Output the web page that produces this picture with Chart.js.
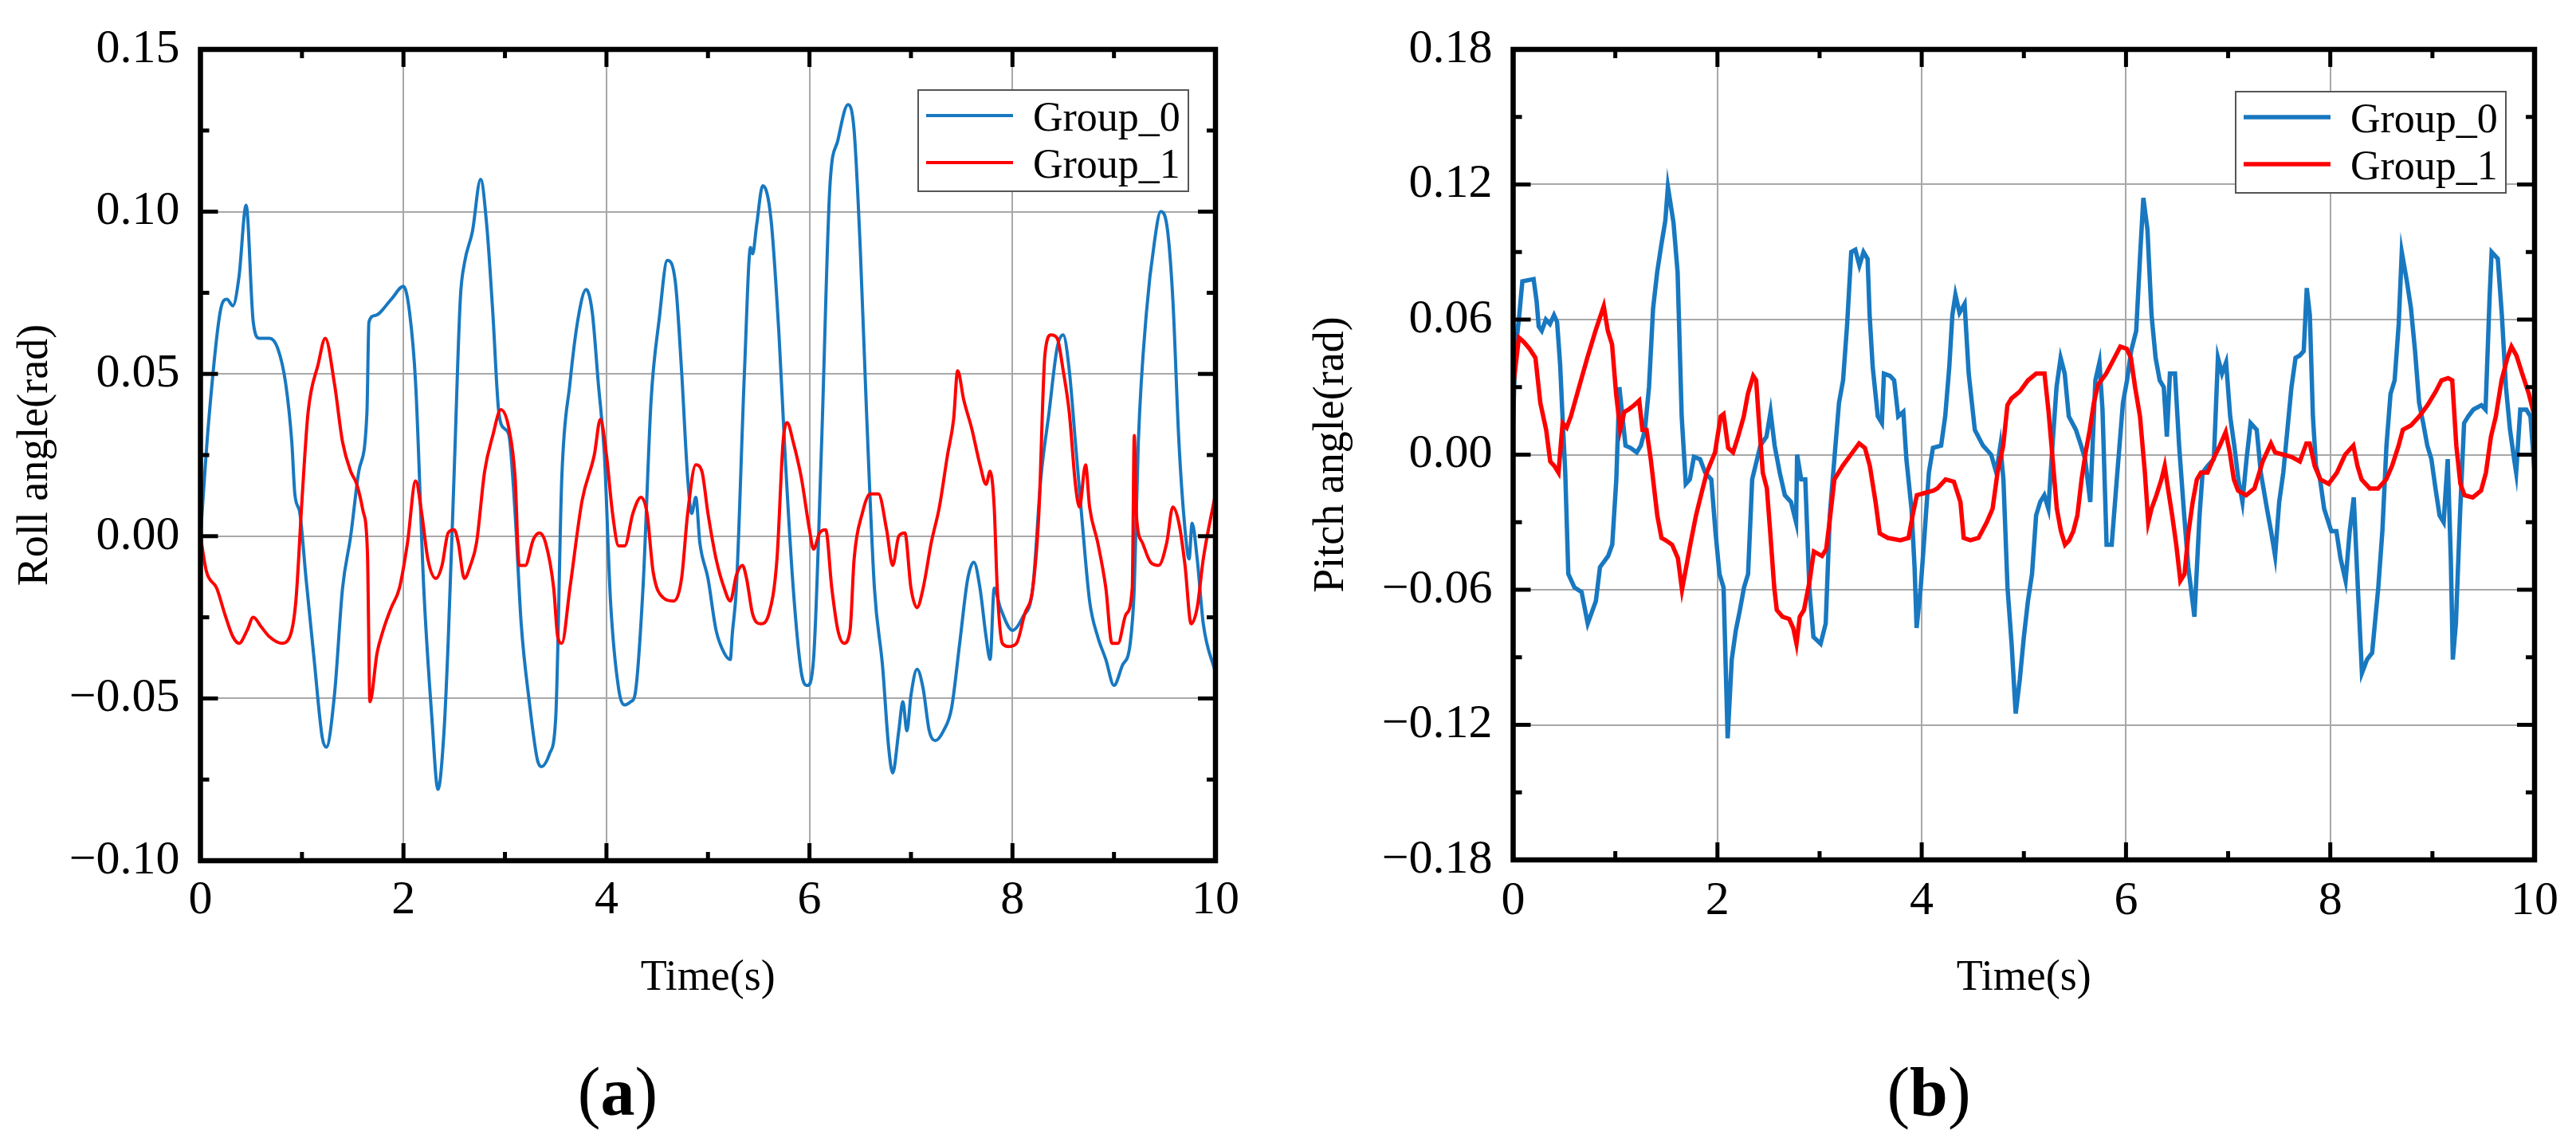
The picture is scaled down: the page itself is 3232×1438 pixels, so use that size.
<!DOCTYPE html>
<html>
<head>
<meta charset="utf-8">
<title>Roll and pitch angle</title>
<script src="https://cdn.jsdelivr.net/npm/chart.js@4.4.0/dist/chart.umd.min.js"></script>
<style>
  html, body { margin: 0; padding: 0; background: #fff; }
  body { width: 3232px; height: 1438px; position: relative; overflow: hidden; font-family: 'Liberation Serif', 'Times New Roman', serif; }
  canvas { position: absolute; top: 0; }
  #rollChart { left: 0; }
  #pitchChart { left: 1616px; }
  .panel-label { position: absolute; top: 1320px; width: 400px; text-align: center; font-size: 86px; line-height: 100px; color: #000; }
</style>
</head>
<body>
<canvas id="rollChart" width="1616" height="1300"></canvas>
<canvas id="pitchChart" width="1616" height="1300"></canvas>
<div class="panel-label" style="left:575px">(<b>a</b>)</div>
<div class="panel-label" style="left:2220px">(<b>b</b>)</div>
<script>
// Axis ticks
const xTicks = [0, 2, 4, 6, 8, 10];
const xMinorTicks = [1, 3, 5, 7, 9];
const rollTicks = [-0.10, -0.05, 0, 0.05, 0.10, 0.15];
const rollMinorTicks = [-0.075, -0.025, 0.025, 0.075, 0.125];
const pitchTicks = [-0.18, -0.12, -0.06, 0, 0.06, 0.12, 0.18];
const pitchMinorTicks = [-0.15, -0.09, -0.03, 0.03, 0.09, 0.15];

const seriesNames = ['Group_0', 'Group_1'];
const seriesColors = ['#1878c0', '#ff0000'];

// Roll angle, [time (s), angle (rad)]
const roll0 = [[0,0],[0.08,0.035],[0.2,0.070],[0.26,0.073],[0.32,0.071],[0.38,0.080],[0.45,0.102],[0.52,0.066],[0.58,0.061],[0.68,0.061],
  [0.76,0.058],[0.84,0.047],[0.9,0.029],[0.93,0.013],[0.98,0.007],[1.04,-0.013],[1.12,-0.038],[1.2,-0.062],[1.24,-0.065],[1.32,-0.049],
  [1.4,-0.016],[1.48,0.000],[1.56,0.020],[1.64,0.038],[1.66,0.066],[1.72,0.068],[1.88,0.073],[2.0,0.077],[2.06,0.069],[2.12,0.047],
  [2.2,-0.016],[2.28,-0.056],[2.34,-0.078],[2.4,-0.060],[2.44,-0.033],[2.5,0.020],[2.56,0.073],[2.6,0.084],[2.68,0.094],[2.76,0.110],
  [2.82,0.096],[2.88,0.069],[2.94,0.038],[3.0,0.033],[3.04,0.031],[3.1,0.007],[3.16,-0.027],[3.24,-0.051],[3.32,-0.069],[3.36,-0.071],
  [3.44,-0.067],[3.5,-0.056],[3.56,0.018],[3.64,0.047],[3.72,0.067],[3.8,0.076],[3.86,0.069],[3.92,0.047],[3.98,0.025],[4.04,-0.020],
  [4.12,-0.047],[4.18,-0.052],[4.24,-0.051],[4.28,-0.049],[4.36,-0.016],[4.44,0.042],[4.52,0.067],[4.6,0.085],[4.68,0.078],[4.74,0.051],
  [4.8,0.018],[4.84,0.007],[4.88,0.012],[4.92,-0.002],[5.0,-0.013],[5.08,-0.029],[5.16,-0.036],[5.22,-0.038],[5.24,-0.030],[5.28,-0.016],
  [5.36,0.051],[5.42,0.089],[5.44,0.087],[5.48,0.096],[5.54,0.108],[5.62,0.098],[5.7,0.062],[5.76,0.025],[5.84,-0.016],[5.92,-0.042],
  [5.98,-0.046],[6.04,-0.038],[6.12,0.029],[6.2,0.107],[6.28,0.122],[6.38,0.133],[6.44,0.125],[6.5,0.089],[6.56,0.040],[6.64,-0.016],
  [6.72,-0.040],[6.78,-0.065],[6.82,-0.073],[6.88,-0.060],[6.92,-0.051],[6.96,-0.060],[7.0,-0.049],[7.06,-0.041],[7.12,-0.047],[7.18,-0.060],
  [7.24,-0.063],[7.32,-0.060],[7.4,-0.053],[7.48,-0.033],[7.56,-0.013],[7.62,-0.008],[7.68,-0.016],[7.74,-0.031],[7.78,-0.038],[7.82,-0.016],
  [7.88,-0.022],[8.0,-0.029],[8.1,-0.025],[8.2,-0.016],[8.28,0.018],[8.36,0.038],[8.44,0.058],[8.5,0.062],[8.56,0.051],[8.62,0.029],
  [8.68,0.007],[8.76,-0.020],[8.84,-0.031],[8.92,-0.038],[9.0,-0.046],[9.08,-0.040],[9.16,-0.033],[9.2,-0.016],[9.24,0.029],[9.32,0.069],
  [9.4,0.091],[9.46,0.100],[9.52,0.096],[9.58,0.073],[9.64,0.029],[9.7,0.002],[9.74,-0.007],[9.77,0.004],[9.82,-0.007],[9.88,-0.027],
  [10.0,-0.042]];

const roll1 = [[0,0],[0.06,-0.011],[0.16,-0.016],[0.24,-0.024],[0.32,-0.031],[0.38,-0.033],[0.46,-0.029],[0.52,-0.025],[0.6,-0.028],[0.68,-0.031],
  [0.8,-0.033],[0.88,-0.031],[0.94,-0.020],[1.0,0.011],[1.06,0.038],[1.16,0.053],[1.23,0.061],[1.32,0.047],[1.4,0.029],[1.48,0.020],
  [1.54,0.016],[1.6,0.008],[1.645,-0.005],[1.67,-0.051],[1.74,-0.036],[1.8,-0.029],[1.88,-0.022],[1.96,-0.016],[2.04,-0.002],[2.12,0.017],
  [2.18,0.007],[2.24,-0.007],[2.32,-0.013],[2.38,-0.009],[2.44,0.001],[2.5,0.002],[2.54,-0.002],[2.6,-0.013],[2.66,-0.009],[2.72,-0.002],
  [2.8,0.020],[2.88,0.031],[2.96,0.039],[3.04,0.033],[3.1,0.018],[3.14,-0.009],[3.2,-0.009],[3.28,-0.001],[3.34,0.001],[3.4,-0.002],
  [3.48,-0.016],[3.52,-0.031],[3.56,-0.033],[3.64,-0.016],[3.76,0.011],[3.88,0.025],[3.94,0.036],[4.0,0.025],[4.06,0.007],[4.12,-0.003],
  [4.18,-0.003],[4.26,0.007],[4.34,0.012],[4.4,0.007],[4.46,-0.011],[4.56,-0.019],[4.66,-0.020],[4.74,-0.013],[4.8,0.007],[4.88,0.022],
  [4.94,0.020],[5.0,0.007],[5.08,-0.007],[5.16,-0.016],[5.22,-0.020],[5.28,-0.012],[5.34,-0.009],[5.38,-0.013],[5.44,-0.024],[5.52,-0.027],
  [5.6,-0.024],[5.68,-0.007],[5.74,0.029],[5.78,0.035],[5.84,0.029],[5.92,0.018],[6.0,0.002],[6.04,-0.004],[6.1,0.001],[6.16,0.002],
  [6.22,-0.016],[6.28,-0.029],[6.34,-0.033],[6.4,-0.029],[6.44,-0.007],[6.52,0.007],[6.6,0.013],[6.68,0.013],[6.76,0.002],[6.82,-0.009],
  [6.88,0.000],[6.94,0.001],[7.0,-0.016],[7.06,-0.022],[7.12,-0.016],[7.2,-0.002],[7.28,0.009],[7.36,0.025],[7.42,0.036],[7.46,0.051],
  [7.52,0.042],[7.6,0.033],[7.68,0.022],[7.74,0.016],[7.78,0.020],[7.82,0.009],[7.85,-0.016],[7.9,-0.033],[7.96,-0.034],[8.04,-0.033],
  [8.12,-0.024],[8.2,-0.016],[8.26,0.007],[8.32,0.056],[8.38,0.062],[8.44,0.061],[8.5,0.051],[8.56,0.038],[8.62,0.016],[8.66,0.009],
  [8.72,0.022],[8.76,0.009],[8.84,-0.002],[8.92,-0.016],[8.98,-0.033],[9.04,-0.033],[9.12,-0.024],[9.18,-0.016],[9.2,0.031],[9.22,0.007],
  [9.28,-0.002],[9.36,-0.008],[9.44,-0.009],[9.52,-0.002],[9.58,0.009],[9.64,0.004],[9.7,-0.009],[9.76,-0.027],[9.82,-0.022],[9.88,-0.007],
  [10.0,0.013]];

// Pitch angle, [time (s), angle (rad)]
const pitch0 = [[0,0.015],[0.02,0.045],[0.06,0.062],[0.09,0.077],[0.2,0.078],[0.23,0.068],[0.25,0.057],[0.28,0.055],[0.32,0.060],[0.36,0.058],
  [0.4,0.062],[0.43,0.059],[0.46,0.040],[0.48,0.020],[0.51,-0.008],[0.54,-0.053],[0.6,-0.059],[0.67,-0.061],[0.73,-0.075],[0.81,-0.065],
  [0.85,-0.050],[0.93,-0.045],[0.97,-0.040],[1.01,-0.011],[1.04,0.030],[1.07,0.017],[1.1,0.004],[1.15,0.003],[1.21,0.001],[1.25,0.004],
  [1.29,0.011],[1.33,0.030],[1.37,0.065],[1.41,0.081],[1.45,0.093],[1.49,0.104],[1.515,0.119],[1.57,0.103],[1.61,0.081],[1.65,0.017],
  [1.69,-0.013],[1.73,-0.011],[1.77,-0.001],[1.83,-0.002],[1.88,-0.008],[1.94,-0.011],[1.98,-0.034],[2.02,-0.053],[2.06,-0.059],[2.1,-0.126],
  [2.14,-0.091],[2.18,-0.078],[2.22,-0.069],[2.26,-0.059],[2.3,-0.053],[2.34,-0.011],[2.42,0.004],[2.48,0.008],[2.52,0.019],[2.56,0.004],
  [2.61,-0.008],[2.66,-0.018],[2.72,-0.021],[2.77,-0.030],[2.78,0.000],[2.82,-0.011],[2.86,-0.011],[2.9,-0.059],[2.94,-0.081],[3.01,-0.084],
  [3.06,-0.075],[3.1,-0.027],[3.15,0.001],[3.19,0.023],[3.23,0.033],[3.27,0.058],[3.31,0.090],[3.35,0.091],[3.39,0.084],[3.43,0.090],
  [3.47,0.087],[3.49,0.062],[3.52,0.039],[3.57,0.017],[3.61,0.014],[3.63,0.036],[3.69,0.035],[3.73,0.033],[3.77,0.017],[3.82,0.019],[3.85,-0.002],
  [3.9,-0.024],[3.93,-0.050],[3.95,-0.077],[3.99,-0.059],[4.03,-0.034],[4.07,-0.008],[4.11,0.003],[4.19,0.004],[4.23,0.017],[4.27,0.039],
  [4.3,0.062],[4.33,0.071],[4.37,0.063],[4.42,0.067],[4.46,0.036],[4.52,0.011],[4.6,0.004],[4.68,0.000],[4.73,-0.008],[4.77,0.004],
  [4.8,-0.011],[4.84,-0.059],[4.88,-0.084],[4.92,-0.115],[4.96,-0.100],[5.0,-0.081],[5.04,-0.065],[5.08,-0.053],[5.12,-0.027],[5.16,-0.021],
  [5.2,-0.018],[5.24,-0.024],[5.28,0.004],[5.32,0.030],[5.36,0.043],[5.4,0.036],[5.44,0.017],[5.51,0.011],[5.56,0.004],[5.6,-0.002],
  [5.65,-0.021],[5.7,0.033],[5.74,0.041],[5.77,0.020],[5.81,-0.040],[5.86,-0.040],[5.91,-0.011],[5.97,0.023],[6.01,0.033],[6.05,0.046],
  [6.1,0.055],[6.14,0.090],[6.17,0.114],[6.21,0.100],[6.25,0.062],[6.29,0.043],[6.33,0.033],[6.37,0.030],[6.4,0.008],[6.43,0.036],
  [6.48,0.036],[6.52,0.004],[6.57,-0.027],[6.61,-0.050],[6.67,-0.072],[6.72,-0.027],[6.75,-0.008],[6.8,-0.005],[6.86,-0.002],[6.9,0.043],
  [6.94,0.036],[6.98,0.041],[7.02,0.017],[7.06,0.004],[7.1,-0.011],[7.14,-0.021],[7.18,-0.002],[7.22,0.014],[7.28,0.011],[7.32,-0.008],
  [7.38,-0.024],[7.42,-0.034],[7.46,-0.045],[7.5,-0.021],[7.54,-0.008],[7.58,0.011],[7.62,0.030],[7.66,0.043],[7.7,0.044],[7.74,0.046],
  [7.77,0.074],[7.8,0.062],[7.83,0.017],[7.86,-0.005],[7.9,-0.011],[7.94,-0.024],[8.01,-0.034],[8.06,-0.034],[8.1,-0.046],[8.15,-0.056],
  [8.19,-0.034],[8.23,-0.019],[8.27,-0.059],[8.31,-0.097],[8.36,-0.091],[8.41,-0.088],[8.47,-0.059],[8.51,-0.034],[8.55,0.004],[8.59,0.027],
  [8.63,0.033],[8.67,0.058],[8.7,0.090],[8.75,0.077],[8.79,0.065],[8.83,0.046],[8.87,0.023],[8.91,0.014],[8.95,0.004],[8.99,-0.002],
  [9.03,-0.015],[9.07,-0.027],[9.11,-0.030],[9.15,-0.002],[9.18,-0.046],[9.2,-0.091],[9.23,-0.075],[9.27,-0.027],[9.31,0.014],[9.35,0.017],
  [9.4,0.020],[9.48,0.022],[9.52,0.020],[9.56,0.070],[9.58,0.090],[9.64,0.087],[9.68,0.062],[9.72,0.030],[9.76,0.011],[9.8,-0.002],
  [9.82,-0.008],[9.86,0.020],[9.92,0.020],[9.96,0.017],[10.0,-0.008]];

const pitch1 = [[0,0.030],[0.056,0.052],[0.105,0.050],[0.161,0.047],[0.218,0.043],[0.266,0.023],[0.323,0.011],[0.363,-0.003],[0.403,-0.005],[0.444,-0.008],
  [0.484,0.014],[0.524,0.012],[0.565,0.017],[0.645,0.030],[0.726,0.043],[0.806,0.055],[0.887,0.066],[0.927,0.055],[0.968,0.049],[1.008,0.027],
  [1.048,0.011],[1.089,0.019],[1.129,0.020],[1.185,0.022],[1.234,0.024],[1.266,0.011],[1.306,0.011],[1.347,-0.002],[1.411,-0.027],[1.452,-0.037],
  [1.492,-0.038],[1.556,-0.040],[1.613,-0.046],[1.653,-0.060],[1.694,-0.050],[1.734,-0.040],[1.79,-0.027],[1.839,-0.018],[1.895,-0.008],[1.976,0.001],
  [2.032,0.017],[2.06,0.018],[2.105,0.003],[2.153,0.001],[2.202,0.008],[2.258,0.017],[2.298,0.027],[2.35,0.035],[2.379,0.033],[2.403,0.017],
  [2.444,-0.008],[2.484,-0.015],[2.516,-0.034],[2.556,-0.059],[2.581,-0.069],[2.637,-0.072],[2.702,-0.073],[2.742,-0.077],[2.774,-0.084],[2.806,-0.072],
  [2.847,-0.069],[2.903,-0.056],[2.944,-0.043],[2.984,-0.044],[3.024,-0.045],[3.065,-0.042],[3.105,-0.027],[3.145,-0.011],[3.226,-0.005],[3.306,0.000],
  [3.387,0.005],[3.444,0.003],[3.492,-0.005],[3.548,-0.021],[3.589,-0.035],[3.669,-0.037],[3.79,-0.038],[3.871,-0.037],[3.911,-0.027],[3.952,-0.018],
  [4.032,-0.017],[4.113,-0.016],[4.153,-0.015],[4.234,-0.011],[4.315,-0.012],[4.379,-0.021],[4.411,-0.037],[4.476,-0.038],[4.556,-0.037],[4.637,-0.030],
  [4.694,-0.024],[4.742,-0.008],[4.798,0.004],[4.839,0.022],[4.879,0.025],[4.96,0.028],[5.04,0.033],[5.121,0.036],[5.202,0.036],[5.242,0.019],
  [5.282,-0.002],[5.323,-0.024],[5.363,-0.034],[5.403,-0.040],[5.444,-0.038],[5.484,-0.034],[5.524,-0.027],[5.565,-0.011],[5.605,0.001],[5.645,0.011],
  [5.685,0.023],[5.726,0.031],[5.806,0.036],[5.887,0.043],[5.944,0.048],[6.008,0.047],[6.048,0.043],[6.089,0.030],[6.137,0.017],[6.185,-0.008],
  [6.218,-0.030],[6.25,-0.024],[6.298,-0.018],[6.347,-0.011],[6.379,-0.005],[6.411,-0.015],[6.452,-0.027],[6.492,-0.040],[6.532,-0.056],[6.573,-0.053],
  [6.613,-0.034],[6.653,-0.021],[6.694,-0.011],[6.734,-0.008],[6.798,-0.008],[6.855,-0.002],[6.919,0.004],[6.976,0.010],[7.016,0.001],[7.056,-0.011],
  [7.097,-0.016],[7.177,-0.018],[7.258,-0.015],[7.339,-0.003],[7.419,0.005],[7.46,0.001],[7.54,0.000],[7.621,-0.001],[7.702,-0.003],[7.766,0.005],
  [7.798,0.005],[7.847,-0.005],[7.903,-0.011],[7.984,-0.013],[8.065,-0.008],[8.145,0.000],[8.226,0.004],[8.266,-0.005],[8.306,-0.011],[8.387,-0.015],
  [8.468,-0.015],[8.548,-0.011],[8.605,-0.005],[8.669,0.004],[8.71,0.011],[8.79,0.013],[8.871,0.017],[8.952,0.022],[9.032,0.028],[9.089,0.033],
  [9.153,0.034],[9.194,0.033],[9.234,0.004],[9.274,-0.013],[9.315,-0.018],[9.395,-0.019],[9.476,-0.016],[9.524,-0.008],[9.573,0.008],[9.621,0.017],
  [9.677,0.033],[9.734,0.043],[9.774,0.048],[9.823,0.044],[9.879,0.036],[9.944,0.027],[10.0,0.017]];

const FONT = "'Liberation Serif', 'Times New Roman', serif";

function toPoints(pairs) {
    return pairs.map(p => ({ x: p[0], y: p[1] }));
}

// 0.05 -> "0.05", -0.05 -> "−0.05"
function formatAngle(value) {
    return value.toFixed(2).replace('-', '\u2212');
}

// Black frame with inward major/minor ticks on all four sides
const frameTicks = {
    id: 'frameTicks',
    afterDraw(chart, args, opts) {
        const { ctx, chartArea: a } = chart;
        const xs = chart.scales.x;
        const ys = chart.scales.y;
        const seg = (x1, y1, x2, y2) => {
            ctx.beginPath();
            ctx.moveTo(x1, y1);
            ctx.lineTo(x2, y2);
            ctx.stroke();
        };
        const drawX = (vals, len) => vals.forEach(v => {
            const px = xs.getPixelForValue(v);
            seg(px, a.bottom, px, a.bottom - len);
            seg(px, a.top, px, a.top + len);
        });
        const drawY = (vals, len) => vals.forEach(v => {
            const py = ys.getPixelForValue(v);
            seg(a.left, py, a.left + len, py);
            seg(a.right, py, a.right - len, py);
        });
        ctx.save();
        ctx.strokeStyle = '#000';
        ctx.lineCap = 'butt';
        ctx.lineWidth = 5;
        drawX(opts.xMajor, 22);
        drawX(opts.xMinor, 11);
        drawY(opts.yMajor, 22);
        drawY(opts.yMinor, 11);
        ctx.lineWidth = 6.5;
        ctx.lineJoin = 'miter';
        ctx.strokeRect(a.left, a.top, a.right - a.left, a.bottom - a.top);
        ctx.restore();
    }
};

// Boxed legend in the top right corner of the plot
const boxLegend = {
    id: 'boxLegend',
    afterDraw(chart, args, opts) {
        const { ctx, chartArea: a } = chart;
        const w = 339, h = 127;
        const left = a.right - opts.right - w;
        const top = a.top + opts.top;
        ctx.save();
        ctx.fillStyle = '#fff';
        ctx.fillRect(left, top, w, h);
        ctx.strokeStyle = '#555';
        ctx.lineWidth = 2;
        ctx.strokeRect(left, top, w, h);
        ctx.font = '52px ' + FONT;
        ctx.textBaseline = 'alphabetic';
        chart.data.datasets.forEach((ds, i) => {
            const ly = top + 32 + i * 59;
            ctx.strokeStyle = ds.borderColor;
            ctx.lineWidth = opts.lineWidth;
            ctx.beginPath();
            ctx.moveTo(left + 10, ly);
            ctx.lineTo(left + 119, ly);
            ctx.stroke();
            ctx.fillStyle = '#000';
            ctx.fillText(ds.label, left + 144, ly + 19);
        });
        ctx.restore();
    }
};

function makeChart(canvasId, cfg) {
    const grid = { color: '#a8a8a8', lineWidth: 2, drawTicks: false };
    return new Chart(document.getElementById(canvasId), {
        type: 'line',
        data: {
            datasets: cfg.series.map((pairs, i) => ({
                label: seriesNames[i],
                data: toPoints(pairs),
                borderColor: seriesColors[i],
                borderWidth: cfg.lineWidth,
                pointRadius: 0,
                fill: false,
                cubicInterpolationMode: cfg.smooth ? 'monotone' : 'default',
                tension: 0,
                order: cfg.series.length - i
            }))
        },
        options: {
            responsive: false,
            animation: false,
            devicePixelRatio: 1,
            layout: { padding: { left: 0, top: cfg.top, right: cfg.right, bottom: 0 } },
            plugins: {
                legend: { display: false },
                tooltip: { enabled: false },
                frameTicks: { xMajor: xTicks, xMinor: xMinorTicks, yMajor: cfg.yTicks, yMinor: cfg.yMinor },
                boxLegend: { right: cfg.legendRight, top: cfg.legendTop, lineWidth: cfg.lineWidth }
            },
            scales: {
                x: {
                    type: 'linear',
                    min: 0,
                    max: 10,
                    afterBuildTicks: s => { s.ticks = xTicks.map(v => ({ value: v })); },
                    afterFit: s => { s.height = cfg.xHeight; },
                    grid: grid,
                    border: { display: false },
                    ticks: {
                        font: { family: FONT, size: 60 },
                        color: '#000',
                        padding: cfg.xPad,
                        maxRotation: 0,
                        autoSkip: false,
                        callback: v => String(v)
                    },
                    title: {
                        display: true,
                        text: 'Time(s)',
                        font: { family: FONT, size: 54 },
                        color: '#000',
                        padding: { top: 0, bottom: 40 }
                    }
                },
                y: {
                    type: 'linear',
                    min: cfg.yTicks[0],
                    max: cfg.yTicks[cfg.yTicks.length - 1],
                    afterBuildTicks: s => { s.ticks = cfg.yTicks.map(v => ({ value: v })); },
                    afterFit: s => { s.width = cfg.yWidth; },
                    grid: grid,
                    border: { display: false },
                    ticks: {
                        font: { family: FONT, size: 60 },
                        color: '#000',
                        padding: 26,
                        autoSkip: false,
                        callback: v => formatAngle(v)
                    },
                    title: {
                        display: true,
                        text: cfg.yTitle,
                        font: { family: FONT, size: 54 },
                        color: '#000',
                        padding: { top: cfg.yTitlePad, bottom: 0 }
                    }
                }
            }
        },
        plugins: [frameTicks, boxLegend]
    });
}

makeChart('rollChart', {
    series: [roll0, roll1],
    yTicks: rollTicks,
    yMinor: rollMinorTicks,
    yTitle: 'Roll angle(rad)',
    yTitlePad: 12,
    yWidth: 251.5,
    xHeight: 220,
    xPad: 14,
    top: 55,
    right: 91,
    legendRight: 34,
    legendTop: 51,
    lineWidth: 4,
    smooth: true
});

makeChart('pitchChart', {
    series: [pitch0, pitch1],
    yTicks: pitchTicks,
    yMinor: pitchMinorTicks,
    yTitle: 'Pitch angle(rad)',
    yTitlePad: 22,
    yWidth: 282.5,
    xHeight: 221,
    xPad: 16,
    top: 45,
    right: 52,
    legendRight: 36,
    legendTop: 53,
    lineWidth: 5.5,
    smooth: false
});
</script>
</body>
</html>
